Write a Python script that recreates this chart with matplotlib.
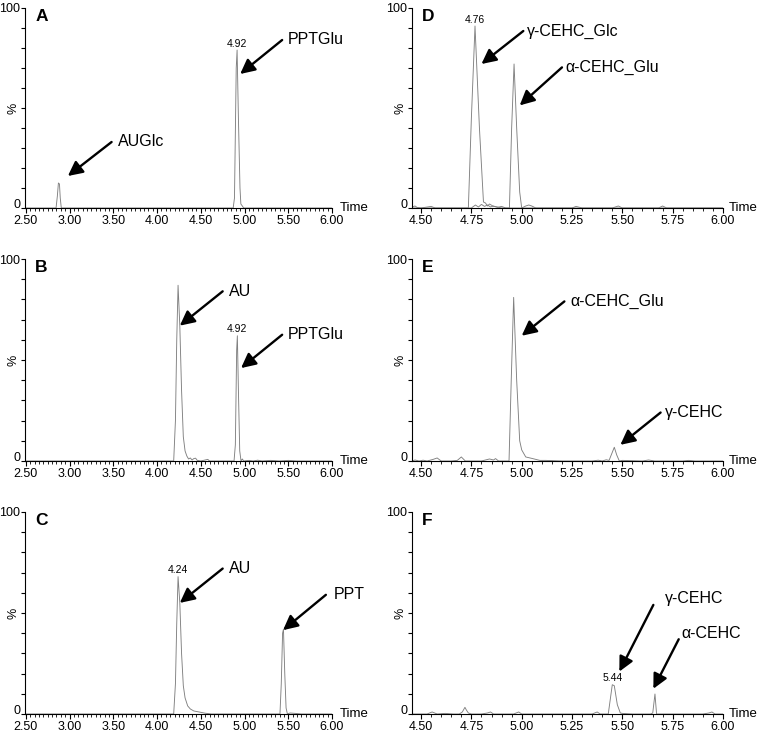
import numpy as np
import matplotlib
matplotlib.use('Agg')
import matplotlib.pyplot as plt
import matplotlib.transforms as mtransforms
from matplotlib.ticker import MultipleLocator, FixedLocator

plt.rcParams['font.family'] = ['Liberation Sans', 'DejaVu Sans']

# ---- chromatogram traces (time in min, intensity in %) ----
a_t = [2.49, 2.845, 2.86, 2.872, 2.884, 2.893, 2.905, 4.87, 4.885, 4.905, 4.915, 4.93, 4.948, 4.958, 4.975, 4.99, 6.0]
a_i = [0, 0, 6, 12.5, 12, 5, 0, 0, 5, 70, 79, 45, 10, 2, 1, 0, 0]

b_t = [2.49, 4.19, 4.21, 4.225, 4.24, 4.26, 4.28, 4.30, 4.32, 4.34, 4.36, 4.38, 4.40, 4.42, 4.44, 4.46, 4.50,
       4.58, 4.60, 4.62, 4.88, 4.895, 4.91, 4.918, 4.93, 4.945, 4.96, 4.975, 4.99, 5.05, 5.10, 5.15, 5.20,
       5.30, 5.40, 5.50, 5.60, 6.0]
b_i = [0, 0, 20, 60, 87, 67, 35, 12, 5, 2.5, 1, 1.5, 0.5, 1.2, 1.4, 0.3, 0,
       0.8, 0, 0, 0, 8, 55, 62, 35, 5, 0, 1, 0, 0.3, 0, 0.4, 0,
       0.3, 0, 0.3, 0, 0]

c_t = [2.49, 4.19, 4.21, 4.225, 4.24, 4.26, 4.28, 4.30, 4.32, 4.35, 4.38, 4.42, 4.48, 4.55, 4.62,
       5.405, 5.42, 5.435, 5.445, 5.46, 5.475, 5.49, 5.52, 5.58, 5.65, 6.0]
c_i = [0, 0, 15, 45, 68, 55, 30, 14, 8, 4, 2.5, 1.5, 1, 0.4, 0,
       0, 15, 40, 42, 20, 3, 0, 0.5, 0.3, 0, 0]

d1_t = [4.455, 4.47, 4.48, 4.50, 4.55, 4.57, 4.60, 4.70, 4.735, 4.75, 4.768, 4.79, 4.81, 4.82, 4.83,
        4.84, 4.86, 4.88, 4.90, 5.00, 5.25, 5.27, 5.30, 5.45, 5.48, 5.50, 5.68, 5.70, 5.72, 6.0]
d1_i = [0.5, 1, 0.3, 0, 0.8, 0, 0, 0, 0, 45, 91, 40, 3, 2.5, 1,
        2, 0.8, 0.5, 0, 0, 0, 0.8, 0, 0, 1, 0, 0, 1, 0, 0]

d2_t = [4.455, 4.60, 4.75, 4.77, 4.785, 4.80, 4.815, 4.83, 4.845, 4.86, 4.88, 4.90, 4.92, 4.939,
        4.95, 4.962, 4.975, 4.99, 5.0, 5.02, 5.035, 5.05, 5.07, 5.10, 6.0]
d2_i = [0, 0, 0, 1.5, 0.5, 1.8, 0.8, 1.5, 0.5, 1, 0.3, 0.8, 0, 0,
        40, 72, 40, 8, 0, 1, 1.5, 1, 0, 0, 0]

e_t = [4.455, 4.47, 4.49, 4.51, 4.53, 4.56, 4.58, 4.60, 4.65, 4.68, 4.70, 4.72, 4.80, 4.84, 4.86,
       4.87, 4.885, 4.90, 4.937, 4.948, 4.96, 4.975, 4.99, 5.00, 5.02, 5.05, 5.07, 5.09, 5.12, 5.20,
       5.35, 5.38, 5.40, 5.42, 5.434, 5.46, 5.472, 5.485, 5.50, 5.60, 5.63, 5.66, 5.80, 5.83, 5.86, 6.0]
e_i = [0, 0.5, 0, 0.4, 0, 0.8, 1.5, 0, 0, 0.3, 2, 0, 0, 1, 0.5,
       1.2, 0, 0, 0, 40, 81, 40, 10, 5.5, 2, 1.3, 0.8, 0.3, 0.3, 0,
       0, 0.4, 0, 0.6, 0.3, 6.8, 3, 0, 0.3, 0, 0.5, 0, 0, 0.3, 0, 0]

f_t = [4.455, 4.50, 4.53, 4.555, 4.58, 4.62, 4.66, 4.69, 4.705, 4.718, 4.725, 4.735, 4.75, 4.80,
       4.83, 4.845, 4.86, 4.90, 4.96, 4.985, 5.00, 5.10, 5.20, 5.35, 5.375, 5.39, 5.43, 5.45,
       5.46, 5.475, 5.49, 5.50, 5.55, 5.60, 5.64, 5.651, 5.662, 5.67, 5.70, 5.80, 5.90, 5.93,
       5.945, 5.96, 6.0]
f_i = [0, 0, 0, 1, 0, 0.3, 0, 0, 1, 3.3, 2, 0.5, 0, 0,
       0.5, 1, 0, 0, 0, 1, 0, 0, 0, 0, 1, 0, 0, 14.5,
       14, 4.6, 0.5, 0.3, 0, 0, 0, 0.5, 9.9, 0, 0, 0, 0, 0.5,
       1, 0, 0]

# peak retention-time labels: (time, height, text)
a_peaks = [(4.915, 79, '4.92')]
b_peaks = [(4.918, 62, '4.92')]
c_peaks = [(4.24, 68, '4.24')]
d_peaks = [(4.768, 91, '4.76')]
e_peaks = []
f_peaks = [(5.45, 14.5, '5.44')]

# compound arrows: (text, text_x, text_y, tail_x, tail_y, tip_x, tip_y)
a_arrows = [('AUGlc', 3.55, 33, 3.48, 33, 2.98, 16),
            ('PPTGlu', 5.49, 84, 5.43, 84, 4.95, 67)]
b_arrows = [('AU', 4.82, 84, 4.75, 84, 4.26, 67),
            ('PPTGlu', 5.49, 62.5, 5.43, 62.5, 4.96, 46)]
c_arrows = [('AU', 4.82, 72, 4.75, 72, 4.26, 55),
            ('PPT', 6.02, 59, 5.93, 59, 5.44, 41.5)]
d_arrows = [('\u03b3-CEHC_Glc', 5.025, 88.5, 5.008, 88.5, 4.80, 72),
            ('\u03b1-CEHC_Glu', 5.215, 70.3, 5.20, 70.3, 4.99, 51.3)]
e_arrows = [('\u03b1-CEHC_Glu', 5.24, 79, 5.212, 79, 5.0, 62),
            ('\u03b3-CEHC', 5.71, 24, 5.69, 24, 5.49, 8)]
f_arrows = [('\u03b3-CEHC', 5.71, 57, 5.654, 54, 5.485, 21),
            ('\u03b1-CEHC', 5.795, 40, 5.78, 37, 5.654, 12.5)]

W, H = 759, 734
fig = plt.figure(figsize=(W / 100, H / 100), dpi=100)


def make_axes(left_px, right_px, top_px, bottom_px):
    return fig.add_axes([left_px / W, 1 - bottom_px / H, (right_px - left_px) / W, (bottom_px - top_px) / H])


def draw_panel(ax, traces, peaks, arrows, letter, xlim, major, time_x):
    for t, i in traces:
        ax.plot(t, i, color='0.5', lw=0.65)
    ax.set_xlim(*xlim)
    ax.set_ylim(0, 100)
    for s in ['top', 'right']:
        ax.spines[s].set_visible(False)
    for s in ['left', 'bottom']:
        ax.spines[s].set_linewidth(0.8)
    ax.xaxis.set_major_locator(MultipleLocator(major))
    ax.xaxis.set_minor_locator(MultipleLocator(0.05))
    ax.xaxis.set_major_formatter(plt.FormatStrFormatter('%.2f'))
    ax.yaxis.set_major_locator(FixedLocator(np.arange(0, 101, 10)))
    ax.set_yticklabels(['0'] + [''] * 9 + ['100'])
    ax.tick_params(axis='x', which='major', length=3.5, width=0.8, pad=1.2, labelsize=9)
    ax.tick_params(axis='x', which='minor', length=2.5, width=0.6)
    ax.tick_params(axis='y', length=3, width=0.8, pad=0.5, labelsize=9)
    # nudge the "0" label up so it clears the first time label
    zero = ax.get_yticklabels()[0]
    zero.set_transform(zero.get_transform() + mtransforms.ScaledTranslation(0, 3 / 72, fig.dpi_scale_trans))
    ax.text(-0.037, 0.5, '%', transform=ax.transAxes, rotation=90, ha='center', va='center', fontsize=9)
    ax.text(time_x, 0.0, 'Time', transform=ax.transAxes, ha='left', va='center', fontsize=9.5, clip_on=False)
    ax.text(0.033, 0.958, letter, transform=ax.transAxes, ha='left', va='center', fontsize=12.5, fontweight='bold')
    for x, y, lab in peaks:
        ax.annotate(lab, (x, y), xytext=(0, 1), textcoords='offset points', ha='center', va='bottom', fontsize=7.5)
    for lab, tx, ty, x0, y0, x1, y1 in arrows:
        ax.annotate('', xy=(x1, y1), xytext=(x0, y0), annotation_clip=False,
                    arrowprops=dict(arrowstyle='-|>', color='black', lw=1.7, mutation_scale=22, shrinkA=0, shrinkB=0))
        ax.text(tx, ty, lab, ha='left', va='center', fontsize=11.5, clip_on=False)


axA = make_axes(25, 332, 8, 208)
axB = make_axes(25, 332, 259, 461)
axC = make_axes(25, 332, 512, 714)
axD = make_axes(412, 723, 8, 208)
axE = make_axes(412, 723, 259, 461)
axF = make_axes(412, 723, 512, 714)

left_lim = (2.49, 6.0)
right_lim = (4.455, 6.0)
draw_panel(axA, [(a_t, a_i)], a_peaks, a_arrows, 'A', left_lim, 0.5, 1.026)
draw_panel(axB, [(b_t, b_i)], b_peaks, b_arrows, 'B', left_lim, 0.5, 1.026)
draw_panel(axC, [(c_t, c_i)], c_peaks, c_arrows, 'C', left_lim, 0.5, 1.026)
draw_panel(axD, [(d1_t, d1_i), (d2_t, d2_i)], d_peaks, d_arrows, 'D', right_lim, 0.25, 1.02)
draw_panel(axE, [(e_t, e_i)], e_peaks, e_arrows, 'E', right_lim, 0.25, 1.02)
draw_panel(axF, [(f_t, f_i)], f_peaks, f_arrows, 'F', right_lim, 0.25, 1.02)

fig.savefig('out.png', dpi=100)
